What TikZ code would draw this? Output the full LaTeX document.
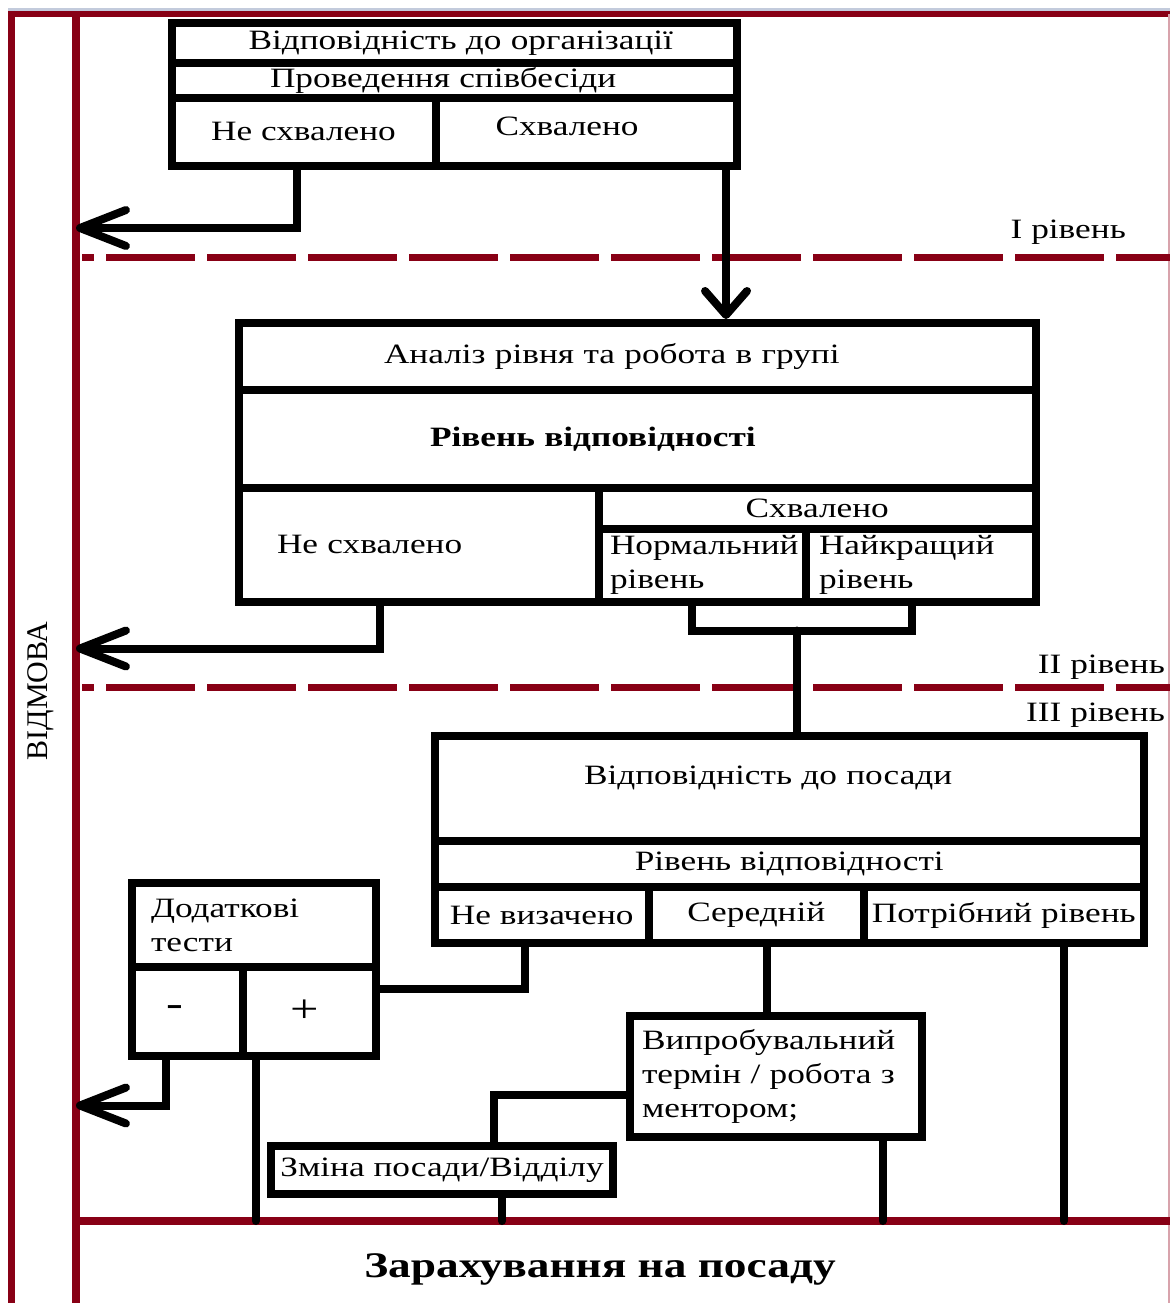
\documentclass[tikz,border=0pt]{standalone}
\usepackage{fontspec}
\setmainfont{Liberation Serif}[FakeStretch=1.26]
\newfontfamily\sidefont{Liberation Serif}
\usetikzlibrary{arrows.meta}
\hyphenpenalty=10000
\definecolor{darkred}{HTML}{880015}
\definecolor{bandgrey}{HTML}{C3CBDC}
\definecolor{edgepink}{HTML}{D8A3AC}
\tikzset{
  cell/.style={
    % The shape:
    rectangle, inner sep=0pt,
    % The border:
    draw=black, line width=8pt,
    % The text:
    font=\fontsize{28}{34}\selectfont},
  dims/.style 2 args={minimum width=#1, minimum height=#2},
  flush/.style={text width=#1, align=left},
  flushr/.style={text width=#1, align=right},
  link/.style={draw=black, line width=8pt, line cap=round},
  refuse/.style={-{Straight Barb[length=46pt,width=36pt,round]}},
  onward/.style={-{Straight Barb[length=24pt,width=42pt,round]}},
  redline/.style={draw=darkred, line width=8pt},
  level rule/.style={draw=darkred, line width=7pt, dash pattern=on 89pt off 12pt, dash phase=77pt},
  leveltag/.style={font=\fontsize{28}{34}\selectfont, inner sep=0pt}
}

\begin{document}
\begin{tikzpicture}[x=1pt, y=-1pt]
  \useasboundingbox (0,0) rectangle (1170,1303);

  % frame and levels
  \fill[bandgrey] (8,8) rectangle (1170,11);
  \draw[redline, line width=6pt] (8,14) -- (1170,14);
  \draw[redline, line width=6.5pt] (11.5,11) -- (11.5,1303);
  \draw[edgepink, line width=1.2pt] (1169,14) -- (1169,1303);
  \draw[redline] (76,14) -- (76,1303);
  \draw[redline] (76,1221) -- (1170,1221);
  \draw[level rule] (82,257.5) -- (1170,257.5);
  \draw[level rule] (82,687) -- (1170,687);

  \node[leveltag, anchor=base east] (lvl1) at (1126,238) {I рівень};
  \node[leveltag, anchor=base east] (lvl2) at (1165,673) {II рівень};
  \node[leveltag, anchor=base east] (lvl3) at (1165,721) {III рівень};
  \node[font=\sidefont\fontsize{30}{36}\selectfont, rotate=90] (refusal) at (41,691) {ВІДМОВА};

  % first level
  \node[cell, dims={565.5pt}{40pt}, flushr=437.5pt] (org) at (454.25,43) {Відповідність до організації};
  \node[cell, dims={565.5pt}{35pt}, flush=368.5pt] (talk) at (454.25,80.5) {Проведення співбесіди};
  \node[cell, dims={264pt}{67.5pt}] (no1) at (303.5,131.75) {Не схвалено};
  \node[cell, dims={301.5pt}{67.5pt}, flush=181.5pt, text depth=12pt] (yes1) at (586.25,131.75) {Схвалено};

  % second level
  \node[cell, dims={797pt}{67pt}, flush=507pt] (study) at (637.5,356.5) {Аналіз рівня та робота в групі};
  \node[cell, dims={797pt}{97.5pt}, flush=415pt,
        font=\fontsize{28}{34}\selectfont\bfseries] (level2) at (637.5,438.75) {Рівень відповідності};
  \node[cell, dims={359.5pt}{114pt}, flush=283.5pt] (no2) at (418.75,544.5) {Не схвалено};
  \node[cell, dims={437.5pt}{41.5pt}] (yes2) at (817.25,508.25) {Схвалено};
  \node[cell, dims={207pt}{72.5pt}, flush=184pt] (norm) at (702,565.25) {Нормальний\\рівень};
  \node[cell, dims={230.5pt}{72.5pt}, flush=203.5pt] (best) at (920.75,565.25) {Найкращий\\рівень};

  % third level
  \node[cell, dims={708.5pt}{105pt}, flush=410.5pt, text depth=26pt] (post) at (789.25,788) {Відповідність до посади};
  \node[cell, dims={708.5pt}{46.5pt}] (level3) at (789.25,863.75) {Рівень відповідності};
  \node[cell, dims={213.5pt}{56pt}] (undef) at (541.75,915) {Не визачено};
  \node[cell, dims={215.5pt}{56pt}] (mid) at (756.25,915) {Середній};
  \node[cell, dims={279.5pt}{56pt}] (need) at (1003.75,915) {Потрібний рівень};

  \node[cell, dims={243.5pt}{84pt}, flush=205.5pt] (tests) at (253.75,925) {Додаткові\\тести};
  \node[cell, dims={111pt}{88.5pt}, flush=43pt, font=\fontsize{40}{46}\selectfont] (minus) at (187.5,1011.25) {-};
  \node[cell, dims={132.5pt}{88.5pt}, flush=38pt, font=\fontsize{40}{46}\selectfont] (plus) at (309.25,1011.25) {+};
  \node[cell, dims={292pt}{121.5pt}, flush=268pt] (trial) at (776,1076.25) {Випробувальний\\термін / робота з\\ментором;};
  \node[cell, dims={342pt}{48.5pt}] (change) at (442,1169.75) {Зміна посади/Відділу};

  \node[font=\fontsize{36}{42}\selectfont\bfseries, anchor=base] (hiring) at (600,1277) {Зарахування на посаду};

  % points on the refusal and hiring lines
  \coordinate (drop1) at (76,228);
  \coordinate (drop2) at (76,648.5);
  \coordinate (drop3) at (76,1105.5);
  \coordinate (hire1) at (255.5,1221);
  \coordinate (hire2) at (502,1221);
  \coordinate (hire3) at (882.5,1221);
  \coordinate (hire4) at (1064,1221);
  \coordinate (yestap) at ([xshift=-15pt]yes1.south east);
  \coordinate (merge) at (796.5,630.5);
  \coordinate (midtap) at ([xshift=10.75pt]mid.south);

  % connectors
  \draw[link, refuse] ([xshift=-6.5pt]no1.south) |- (drop1);
  \draw[link, onward] (yestap) -- (yestap |- study.north);
  \draw[link, refuse] ([xshift=-39.25pt]no2.south) |- (drop2);
  \draw[link] ([xshift=-10pt]norm.south) |- (merge) -| ([xshift=-9.25pt]best.south);
  \draw[link] (merge) -- (merge |- post.north);
  \draw[link] ([xshift=-16.75pt]undef.south) |- ([yshift=22.25pt]plus.east);
  \draw[link, refuse] ([xshift=-21.5pt]minus.south) |- (drop3);
  \draw[link] (midtap) -- (midtap |- trial.north);
  \draw[link] ([yshift=-18.25pt]trial.west) -| ([xshift=51.5pt]change.north);
  \draw[link] (hire1 |- plus.south) -- (hire1);
  \draw[link] (hire2 |- change.south) -- (hire2);
  \draw[link] (hire3 |- trial.south) -- (hire3);
  \draw[link] (hire4 |- need.south) -- (hire4);
\end{tikzpicture}
\end{document}
